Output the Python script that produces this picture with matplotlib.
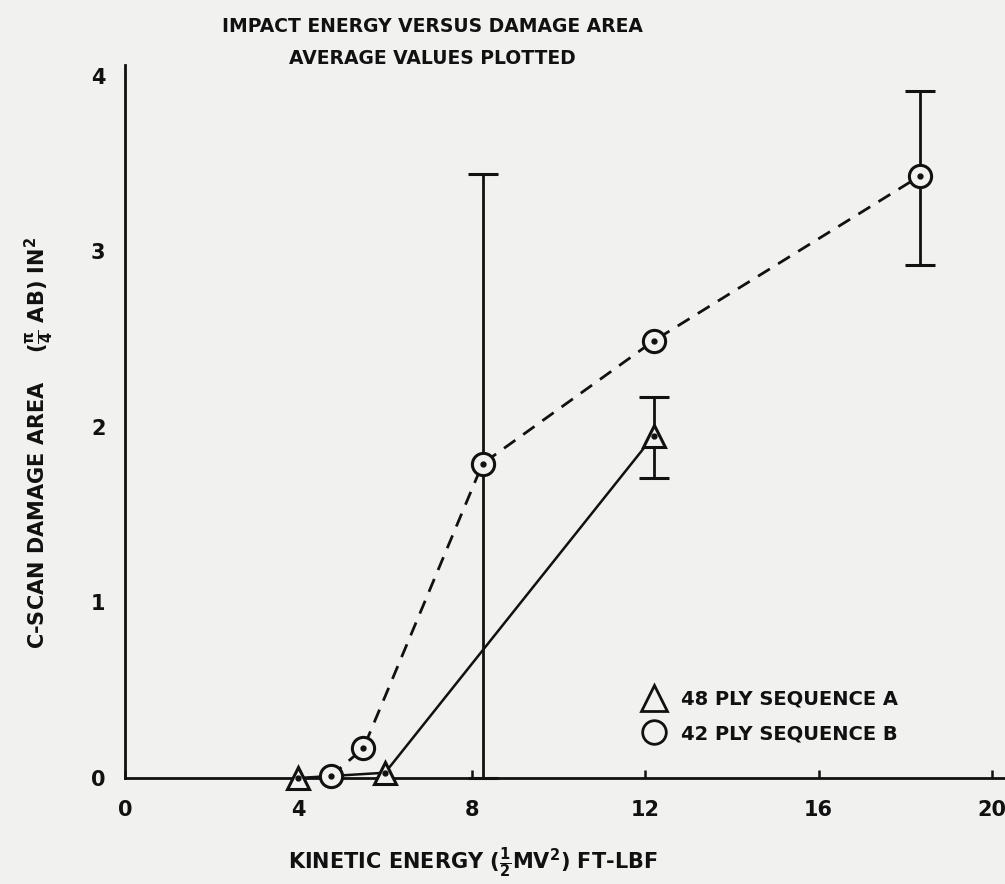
import matplotlib
matplotlib.use("Agg")
import matplotlib.pyplot as plt
from matplotlib.lines import Line2D

plt.rcParams['font.family'] = ['DejaVu Sans']
plt.rcParams['font.weight'] = 'bold'
plt.rcParams['axes.labelweight'] = 'bold'
plt.rcParams['mathtext.fontset'] = 'dejavusans'
plt.rcParams['mathtext.default'] = 'bf'

# 48 ply, sequence A (triangles, solid)
energy_a = [4.0, 6.0, 12.2]
area_a = [0.0, 0.03, 1.95]
err_lo_a = [0.0, 0.0, 0.24]
err_hi_a = [0.0, 0.0, 0.22]

# 42 ply, sequence B (circles, dashed)
energy_b = [4.75, 5.5, 8.25, 12.2, 18.35]
area_b = [0.01, 0.17, 1.79, 2.49, 3.43]
err_lo_b = [0.0, 0.0, 1.79, 0.0, 0.51]
err_hi_b = [0.0, 0.0, 1.65, 0.0, 0.48]

x_ticks = [0, 4, 8, 12, 16, 20]
y_ticks = [0, 1, 2, 3, 4]

bg = "#f1f1ef"
ink = "#111111"

W, H = 1005, 884
fig = plt.figure(figsize=(W / 100, H / 100), dpi=100, facecolor=bg)
ax = fig.add_axes([125 / W, (H - 778) / H, 880 / W, 713 / H])
ax.set_facecolor(bg)

ax.set_xlim(0, 20.3)
ax.set_ylim(0, 4.06)

for s in ["top", "right"]:
    ax.spines[s].set_visible(False)
for s in ["left", "bottom"]:
    ax.spines[s].set_linewidth(2.0)
    ax.spines[s].set_color(ink)

ax.set_xticks(x_ticks)
ax.set_yticks(y_ticks)
ax.tick_params(axis="x", direction="in", length=6, width=1.8, pad=16,
               labelsize=15, colors=ink)
ax.tick_params(axis="y", length=0, pad=14, labelsize=15, colors=ink)

# lines
ax.plot(energy_a, area_a, "-", color=ink, lw=1.8, zorder=3)
ax.plot(energy_b, area_b, color=ink, lw=2.0, dashes=(5, 3.5), zorder=3)


def draw_errors(xs, ys, lo, hi):
    # only the points that carry a scatter band
    keep = [i for i in range(len(xs)) if lo[i] > 0 or hi[i] > 0]
    ax.errorbar([xs[i] for i in keep], [ys[i] for i in keep],
                yerr=[[lo[i] for i in keep], [hi[i] for i in keep]],
                fmt="none", ecolor=ink, elinewidth=2.0, capsize=11,
                capthick=2.2, zorder=4, clip_on=False)


draw_errors(energy_a, area_a, err_lo_a, err_hi_a)
draw_errors(energy_b, area_b, err_lo_b, err_hi_b)

# markers with centre dots
ax.plot(energy_a, area_a, "^", ms=16, mfc=bg, mec=ink, mew=2.2,
        ls="none", zorder=5, clip_on=False)
ax.plot(energy_b, area_b, "o", ms=16, mfc=bg, mec=ink, mew=2.2,
        ls="none", zorder=5, clip_on=False)
ax.plot(energy_a + energy_b, area_a + area_b, "o", ms=3.5, color=ink,
        ls="none", zorder=6, clip_on=False)

ax.set_xlabel(r"KINETIC ENERGY ($\frac{1}{2}$MV$^2$) FT-LBF",
              fontsize=15, color=ink)
ax.xaxis.set_label_coords(0.395, -0.095)
ax.set_ylabel(r"C-SCAN DAMAGE AREA    ($\frac{\pi}{4}$ AB) IN$^2$",
              fontsize=15, color=ink)
ax.yaxis.set_label_coords(-0.078, 0.47)

fig.text(432 / W, 1 - 27 / H, "IMPACT ENERGY VERSUS DAMAGE AREA",
         ha="center", va="center", fontsize=13.5, color=ink)
fig.text(432 / W, 1 - 58 / H, "AVERAGE VALUES PLOTTED",
         ha="center", va="center", fontsize=13.5, color=ink)

handles = [
    Line2D([], [], marker="^", ms=19, mfc="none", mec=ink, mew=2.0, ls="none"),
    Line2D([], [], marker="o", ms=17, mfc="none", mec=ink, mew=2.0, ls="none"),
]
ax.legend(handles, ["48 PLY SEQUENCE A", "42 PLY SEQUENCE B"],
          loc="upper left", bbox_to_anchor=(625 / W, 1 - 672 / H),
          bbox_transform=fig.transFigure, frameon=False, fontsize=14,
          handlelength=1.2, handletextpad=0.8, labelspacing=0.8,
          labelcolor=ink)

fig.savefig("out.png", dpi=100, facecolor=bg)
